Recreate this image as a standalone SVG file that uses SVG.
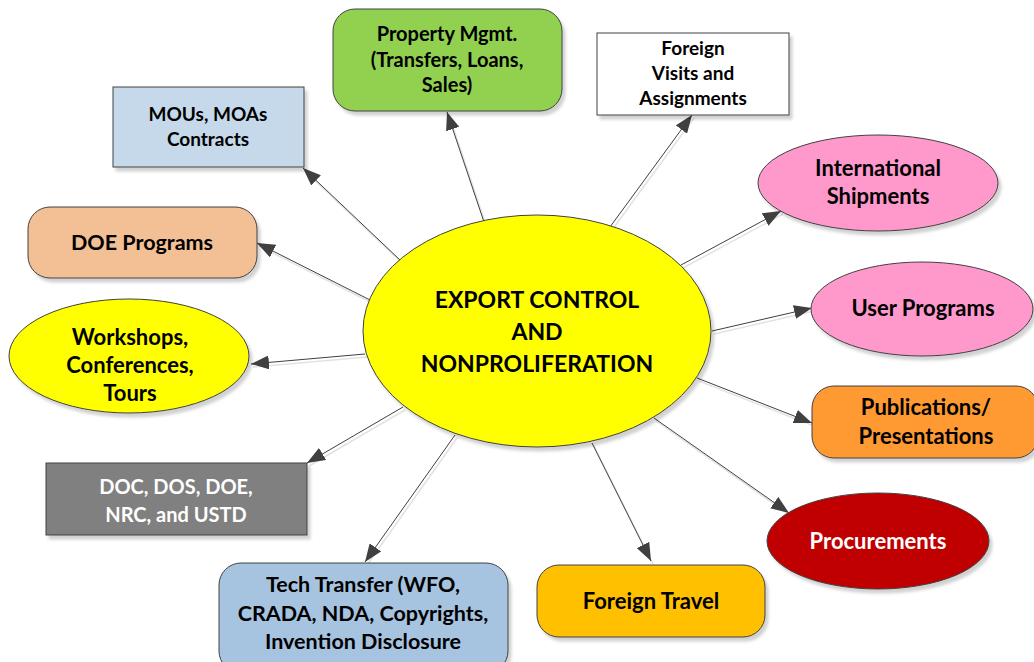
<svg xmlns="http://www.w3.org/2000/svg" width="1034" height="662" viewBox="0 0 1034 662">
  <style>
    .node { stroke: #404040; stroke-width: 1; filter: url(#shadow); }
    .lbl { font-family: Lato, "Open Sans", "Liberation Sans", sans-serif; font-weight: bold; font-size: 22px; fill: #000; text-anchor: middle; }
    .s19 { font-size: 19px; }
    .s20 { font-size: 20px; }
    .s21 { font-size: 21.5px; }
    .center { font-size: 23px; }
    .white { fill: #fff; }
    .wire { stroke: #404040; stroke-width: 1; fill: none; marker-end: url(#head); }
    .wire-shade { stroke: #e2e2e2; stroke-width: 1.5; fill: none; }
  </style>
  <defs>
    <filter id="shadow" x="-10%" y="-10%" width="125%" height="130%">
      <feDropShadow dx="3" dy="4" stdDeviation="1.5" flood-color="#000" flood-opacity="0.18"/>
    </filter>
    <marker id="head" viewBox="0 0 18 14" refX="18" refY="7" markerWidth="18" markerHeight="14" markerUnits="userSpaceOnUse" orient="auto">
      <path d="M0,0 L18,7 L0,14 Z" fill="#404040"/>
    </marker>
  </defs>
  <rect width="1034" height="662" fill="#fff"/>

  <!-- connectors: centre hub to each topic -->
  <g id="connectors">
    <g transform="translate(2,3)">
      <line class="wire-shade" x1="400" y1="260" x2="303" y2="168"/>
      <line class="wire-shade" x1="484" y1="222" x2="447" y2="112"/>
      <line class="wire-shade" x1="370" y1="300" x2="257" y2="243"/>
      <line class="wire-shade" x1="610" y1="227" x2="692" y2="115"/>
      <line class="wire-shade" x1="681" y1="265" x2="781" y2="211"/>
      <line class="wire-shade" x1="712" y1="331" x2="812" y2="308"/>
      <line class="wire-shade" x1="365" y1="354" x2="251" y2="364"/>
      <line class="wire-shade" x1="403" y1="407" x2="307" y2="463"/>
      <line class="wire-shade" x1="455" y1="435" x2="365" y2="562"/>
      <line class="wire-shade" x1="697" y1="378" x2="812" y2="423"/>
      <line class="wire-shade" x1="654" y1="418" x2="789" y2="513"/>
      <line class="wire-shade" x1="592" y1="443" x2="651" y2="561"/>
    </g>
    <line class="wire" x1="400" y1="260" x2="303" y2="168"/>
    <line class="wire" x1="484" y1="222" x2="447" y2="112"/>
    <line class="wire" x1="370" y1="300" x2="257" y2="243"/>
    <line class="wire" x1="610" y1="227" x2="692" y2="115"/>
    <line class="wire" x1="681" y1="265" x2="781" y2="211"/>
    <line class="wire" x1="712" y1="331" x2="812" y2="308"/>
    <line class="wire" x1="365" y1="354" x2="251" y2="364"/>
    <line class="wire" x1="403" y1="407" x2="307" y2="463"/>
    <line class="wire" x1="455" y1="435" x2="365" y2="562"/>
    <line class="wire" x1="697" y1="378" x2="812" y2="423"/>
    <line class="wire" x1="654" y1="418" x2="789" y2="513"/>
    <line class="wire" x1="592" y1="443" x2="651" y2="561"/>
  </g>

  <g id="hub">
    <ellipse class="node" cx="537" cy="331" rx="174" ry="116" fill="#ffff00"/>
    <text class="lbl center" x="537" y="308">EXPORT CONTROL</text>
    <text class="lbl center" x="537" y="340">AND</text>
    <text class="lbl center" x="537" y="372">NONPROLIFERATION</text>
  </g>

  <g id="mous">
    <rect class="node" x="113" y="87" width="191" height="80" fill="#c6d9ea"/>
    <text class="lbl s19" x="208" y="121">MOUs, MOAs</text>
    <text class="lbl s19" x="208" y="146">Contracts</text>
  </g>

  <g id="property">
    <rect class="node" x="333" y="9" width="229" height="102" rx="22" fill="#92d050"/>
    <text class="lbl s20" x="447" y="41">Property Mgmt.</text>
    <text class="lbl s20" x="447" y="67">(Transfers, Loans,</text>
    <text class="lbl s20" x="447" y="92">Sales)</text>
  </g>

  <g id="visits">
    <rect class="node" x="597" y="33" width="192" height="82" fill="#ffffff"/>
    <text class="lbl s19" x="693" y="55">Foreign</text>
    <text class="lbl s19" x="693" y="80">Visits and</text>
    <text class="lbl s19" x="693" y="105">Assignments</text>
  </g>

  <g id="doe-programs">
    <rect class="node" x="28" y="207" width="229" height="71" rx="22" fill="#f3bf95"/>
    <text class="lbl s21" x="142" y="250">DOE Programs</text>
  </g>

  <g id="shipments">
    <ellipse class="node" cx="878" cy="183" rx="120" ry="48" fill="#ff99cc"/>
    <text class="lbl" x="878" y="176">International</text>
    <text class="lbl" x="878" y="204">Shipments</text>
  </g>

  <g id="user-programs">
    <ellipse class="node" cx="922" cy="309" rx="111" ry="47" fill="#ff99cc"/>
    <text class="lbl" x="923" y="316">User Programs</text>
  </g>

  <g id="workshops">
    <ellipse class="node" cx="129" cy="356" rx="120" ry="57" fill="#ffff00"/>
    <text class="lbl" x="130" y="345">Workshops,</text>
    <text class="lbl" x="130" y="373">Conferences,</text>
    <text class="lbl" x="130" y="401">Tours</text>
  </g>

  <g id="publications">
    <rect class="node" x="812" y="386" width="226" height="72" rx="22" fill="#ff9933"/>
    <text class="lbl" x="926" y="415">Publications/</text>
    <text class="lbl" x="926" y="444">Presentations</text>
  </g>

  <g id="agencies">
    <rect class="node" x="46" y="463" width="261" height="72" fill="#808080"/>
    <text class="lbl white s20" x="176" y="494">DOC, DOS, DOE,</text>
    <text class="lbl white s20" x="176" y="522">NRC, and USTD</text>
  </g>

  <g id="procurements">
    <ellipse class="node" cx="878" cy="541" rx="111" ry="48" fill="#c00000"/>
    <text class="lbl white" x="878" y="549">Procurements</text>
  </g>

  <g id="tech-transfer">
    <rect class="node" x="219" y="563" width="289" height="110" rx="22" fill="#a6c3df"/>
    <text class="lbl s21" x="363" y="592">Tech Transfer (WFO,</text>
    <text class="lbl s21" x="363" y="621">CRADA, NDA, Copyrights,</text>
    <text class="lbl s21" x="363" y="649">Invention Disclosure</text>
  </g>

  <g id="travel">
    <rect class="node" x="537" y="565" width="228" height="72" rx="22" fill="#ffc000"/>
    <text class="lbl" x="651" y="609">Foreign Travel</text>
  </g>
</svg>
